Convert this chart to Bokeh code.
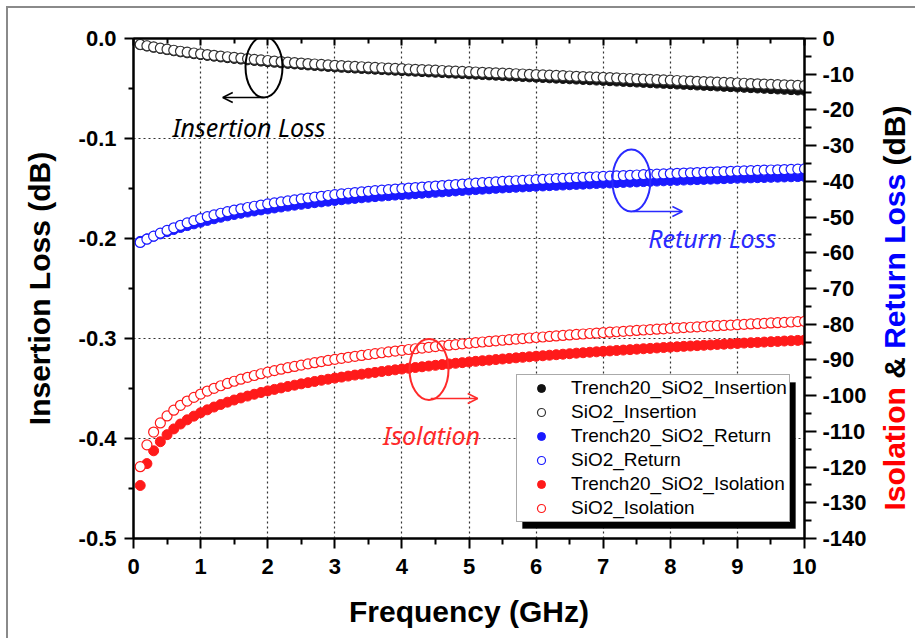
import math
from bokeh.plotting import figure
from bokeh.layouts import row
from bokeh.models import (Range1d, LinearAxis, FixedTicker, Legend, LegendItem,
                          Label, Arrow, OpenHead, BoxAnnotation, Div)
from bokeh.embed import file_html
from bokeh.resources import INLINE

# ---------------- data ----------------
freq = [0.1, 0.2, 0.3, 0.4, 0.5, 0.6, 0.7, 0.8, 0.9, 1.0,
        1.1, 1.2, 1.3, 1.4, 1.5, 1.6, 1.7, 1.8, 1.9, 2.0,
        2.1, 2.2, 2.3, 2.4, 2.5, 2.6, 2.7, 2.8, 2.9, 3.0,
        3.1, 3.2, 3.3, 3.4, 3.5, 3.6, 3.7, 3.8, 3.9, 4.0,
        4.1, 4.2, 4.3, 4.4, 4.5, 4.6, 4.7, 4.8, 4.9, 5.0,
        5.1, 5.2, 5.3, 5.4, 5.5, 5.6, 5.7, 5.8, 5.9, 6.0,
        6.1, 6.2, 6.3, 6.4, 6.5, 6.6, 6.7, 6.8, 6.9, 7.0,
        7.1, 7.2, 7.3, 7.4, 7.5, 7.6, 7.7, 7.8, 7.9, 8.0,
        8.1, 8.2, 8.3, 8.4, 8.5, 8.6, 8.7, 8.8, 8.9, 9.0,
        9.1, 9.2, 9.3, 9.4, 9.5, 9.6, 9.7, 9.8, 9.9, 10.0]

# Insertion loss (dB), left axis
ins_trench = [-0.00620, -0.00752, -0.00878, -0.01000, -0.01117, -0.01228, -0.01335, -0.01432, -0.01523, -0.01610,
              -0.01691, -0.01770, -0.01846, -0.01920, -0.01992, -0.02062, -0.02130, -0.02196, -0.02260, -0.02320,
              -0.02379, -0.02436, -0.02491, -0.02544, -0.02596, -0.02647, -0.02697, -0.02746, -0.02794, -0.02840,
              -0.02881, -0.02921, -0.02960, -0.02998, -0.03035, -0.03072, -0.03108, -0.03143, -0.03177, -0.03210,
              -0.03243, -0.03276, -0.03309, -0.03342, -0.03375, -0.03408, -0.03441, -0.03474, -0.03507, -0.03540,
              -0.03573, -0.03606, -0.03639, -0.03672, -0.03705, -0.03738, -0.03771, -0.03804, -0.03837, -0.03870,
              -0.03902, -0.03934, -0.03966, -0.03998, -0.04030, -0.04062, -0.04094, -0.04126, -0.04158, -0.04190,
              -0.04223, -0.04256, -0.04289, -0.04322, -0.04355, -0.04388, -0.04421, -0.04454, -0.04487, -0.04520,
              -0.04553, -0.04586, -0.04619, -0.04652, -0.04685, -0.04718, -0.04751, -0.04784, -0.04817, -0.04850,
              -0.04883, -0.04916, -0.04949, -0.04982, -0.05015, -0.05048, -0.05081, -0.05114, -0.05147, -0.05180]

ins_sio2 = [-0.00600, -0.00725, -0.00845, -0.00960, -0.01070, -0.01175, -0.01275, -0.01365, -0.01450, -0.01530,
            -0.01607, -0.01682, -0.01754, -0.01824, -0.01892, -0.01958, -0.02022, -0.02084, -0.02144, -0.02200,
            -0.02255, -0.02308, -0.02359, -0.02408, -0.02456, -0.02503, -0.02549, -0.02594, -0.02638, -0.02680,
            -0.02718, -0.02755, -0.02791, -0.02826, -0.02860, -0.02894, -0.02927, -0.02959, -0.02990, -0.03020,
            -0.03050, -0.03080, -0.03110, -0.03140, -0.03170, -0.03200, -0.03230, -0.03260, -0.03290, -0.03320,
            -0.03349, -0.03378, -0.03407, -0.03436, -0.03465, -0.03494, -0.03523, -0.03552, -0.03581, -0.03610,
            -0.03638, -0.03666, -0.03694, -0.03722, -0.03750, -0.03778, -0.03806, -0.03834, -0.03862, -0.03890,
            -0.03918, -0.03946, -0.03974, -0.04002, -0.04030, -0.04058, -0.04086, -0.04114, -0.04142, -0.04170,
            -0.04198, -0.04226, -0.04254, -0.04282, -0.04310, -0.04338, -0.04366, -0.04394, -0.04422, -0.04450,
            -0.04477, -0.04504, -0.04531, -0.04558, -0.04585, -0.04612, -0.04639, -0.04666, -0.04693, -0.04720]

# Return loss (dB), right axis
ret_trench = [-56.80, -56.10, -55.39, -54.72, -54.09, -53.50, -52.92, -52.39, -51.90, -51.44,
              -50.94, -50.48, -50.05, -49.65, -49.28, -48.93, -48.60, -48.29, -48.00, -47.73,
              -47.45, -47.18, -46.92, -46.67, -46.43, -46.20, -45.97, -45.75, -45.54, -45.34,
              -45.14, -44.95, -44.77, -44.60, -44.44, -44.28, -44.13, -43.99, -43.85, -43.72,
              -43.59, -43.46, -43.33, -43.20, -43.07, -42.94, -42.81, -42.68, -42.55, -42.42,
              -42.31, -42.19, -42.08, -41.96, -41.85, -41.75, -41.66, -41.56, -41.47, -41.37,
              -41.29, -41.20, -41.12, -41.03, -40.95, -40.86, -40.78, -40.69, -40.61, -40.52,
              -40.45, -40.37, -40.30, -40.22, -40.15, -40.07, -40.00, -39.92, -39.85, -39.77,
              -39.71, -39.64, -39.58, -39.51, -39.45, -39.38, -39.32, -39.25, -39.19, -39.12,
              -39.07, -39.02, -38.97, -38.92, -38.87, -38.82, -38.77, -38.72, -38.67, -38.62]

ret_sio2 = [-57.10, -56.20, -55.34, -54.52, -53.74, -53.00, -52.30, -51.64, -51.02, -50.44,
            -49.90, -49.40, -48.93, -48.49, -48.08, -47.69, -47.32, -46.97, -46.64, -46.33,
            -46.03, -45.74, -45.46, -45.19, -44.93, -44.68, -44.43, -44.19, -43.96, -43.74,
            -43.53, -43.33, -43.14, -42.96, -42.79, -42.62, -42.46, -42.31, -42.16, -42.02,
            -41.88, -41.74, -41.60, -41.46, -41.32, -41.18, -41.04, -40.90, -40.76, -40.62,
            -40.50, -40.38, -40.26, -40.14, -40.02, -39.92, -39.82, -39.72, -39.62, -39.52,
            -39.43, -39.34, -39.25, -39.16, -39.07, -38.98, -38.89, -38.80, -38.71, -38.62,
            -38.54, -38.46, -38.38, -38.30, -38.22, -38.14, -38.06, -37.98, -37.90, -37.82,
            -37.75, -37.68, -37.61, -37.54, -37.47, -37.40, -37.33, -37.26, -37.19, -37.12,
            -37.06, -37.00, -36.94, -36.88, -36.82, -36.76, -36.70, -36.64, -36.58, -36.52]

# Isolation (dB), right axis
iso_trench = [-125.15, -119.03, -115.44, -112.90, -110.93, -109.32, -107.95, -106.77, -105.74, -104.80,
              -103.97, -103.19, -102.48, -101.83, -101.22, -100.65, -100.12, -99.61, -99.12, -98.67,
              -98.25, -97.84, -97.43, -97.07, -96.70, -96.36, -96.03, -95.70, -95.40, -95.09,
              -94.81, -94.52, -94.24, -93.99, -93.73, -93.49, -93.24, -93.00, -92.77, -92.55,
              -92.33, -92.12, -91.92, -91.71, -91.51, -91.31, -91.13, -90.94, -90.76, -90.58,
              -90.39, -90.23, -90.07, -89.90, -89.74, -89.58, -89.42, -89.27, -89.11, -88.97,
              -88.83, -88.68, -88.54, -88.40, -88.26, -88.11, -87.99, -87.85, -87.73, -87.60,
              -87.48, -87.36, -87.24, -87.12, -86.99, -86.87, -86.77, -86.65, -86.53, -86.42,
              -86.32, -86.20, -86.10, -86.00, -85.90, -85.79, -85.67, -85.59, -85.49, -85.39,
              -85.28, -85.18, -85.10, -85.00, -84.90, -84.82, -84.71, -84.63, -84.53, -84.45]

iso_sio2 = [-119.90, -113.78, -110.19, -107.65, -105.68, -104.07, -102.70, -101.52, -100.49, -99.55,
            -98.72, -97.94, -97.23, -96.58, -95.97, -95.40, -94.87, -94.36, -93.87, -93.42,
            -93.00, -92.59, -92.18, -91.82, -91.45, -91.11, -90.78, -90.45, -90.15, -89.84,
            -89.56, -89.27, -88.99, -88.74, -88.48, -88.24, -87.99, -87.75, -87.52, -87.30,
            -87.08, -86.87, -86.67, -86.46, -86.26, -86.06, -85.88, -85.69, -85.51, -85.33,
            -85.14, -84.98, -84.82, -84.65, -84.49, -84.33, -84.17, -84.02, -83.86, -83.72,
            -83.58, -83.43, -83.29, -83.15, -83.01, -82.86, -82.74, -82.60, -82.48, -82.35,
            -82.23, -82.11, -81.99, -81.87, -81.74, -81.62, -81.52, -81.40, -81.28, -81.17,
            -81.07, -80.95, -80.85, -80.75, -80.65, -80.54, -80.42, -80.34, -80.24, -80.14,
            -80.03, -79.93, -79.85, -79.75, -79.65, -79.57, -79.46, -79.38, -79.28, -79.20]

series_names = ["Trench20_SiO2_Insertion", "SiO2_Insertion",
                "Trench20_SiO2_Return", "SiO2_Return",
                "Trench20_SiO2_Isolation", "SiO2_Isolation"]

x_ticks = [0, 1, 2, 3, 4, 5, 6, 7, 8, 9, 10]
x_tick_labels = ["0", "1", "2", "3", "4", "5", "6", "7", "8", "9", "10"]
left_ticks = [0.0, -0.1, -0.2, -0.3, -0.4, -0.5]
left_tick_labels = ["0.0", "-0.1", "-0.2", "-0.3", "-0.4", "-0.5"]
right_ticks = [0, -10, -20, -30, -40, -50, -60, -70, -80, -90, -100, -110, -120, -130, -140]
right_tick_labels = ["0", "-10", "-20", "-30", "-40", "-50", "-60", "-70", "-80", "-90",
                     "-100", "-110", "-120", "-130", "-140"]

# ---------------- figure ----------------
FONT = "Liberation Sans"
BLACK = "#111111"
BLUE = "#1a1aff"
RED = "#ff1a1a"

p = figure(width=867, height=630, x_range=Range1d(0, 10), y_range=Range1d(-0.5, 0.0),
           output_backend="svg", toolbar_location=None,
           min_border_left=125, min_border_right=71, min_border_top=30, min_border_bottom=100,
           background_fill_color="white", border_fill_color="white", margin=0)
p.extra_y_ranges = {"r": Range1d(-140, 0)}
p.outline_line_color = "black"
p.outline_line_width = 2

xt = FixedTicker(ticks=x_ticks, minor_ticks=[v + 0.5 for v in x_ticks[:-1]])
lt = FixedTicker(ticks=left_ticks, minor_ticks=[v - 0.05 for v in left_ticks[:-1]])
rt = FixedTicker(ticks=right_ticks, minor_ticks=[v - 5 for v in right_ticks[:-1]])

def style_axis(ax, out_major, out_minor, in_major=0, in_minor=0):
    ax.axis_line_width = 2
    ax.axis_line_color = "black"
    ax.major_tick_line_width = 2
    ax.minor_tick_line_width = 2
    ax.major_tick_line_color = "black"
    ax.minor_tick_line_color = "black"
    ax.major_tick_out = out_major
    ax.minor_tick_out = out_minor
    ax.major_tick_in = in_major
    ax.minor_tick_in = in_minor
    ax.major_label_text_font = FONT
    ax.major_label_text_font_style = "bold"
    ax.major_label_text_font_size = "22px"
    ax.major_label_text_color = "black"
    ax.axis_label_text_font = FONT
    ax.axis_label_text_font_style = "bold"
    ax.axis_label_text_font_size = "30px"
    ax.axis_label_text_color = "black"

xax = p.xaxis[0]
xax.ticker = xt
xax.major_label_overrides = {t: s for t, s in zip(x_ticks, x_tick_labels)}
style_axis(xax, 10, 6)
xax.major_label_standoff = 10
xax.axis_label = "Frequency (GHz)"
xax.axis_label_standoff = 18

yax = p.yaxis[0]
yax.ticker = lt
yax.major_label_overrides = {t: s for t, s in zip(left_ticks, left_tick_labels)}
style_axis(yax, 9, 5)
yax.major_label_standoff = 8
yax.axis_label = "Insertion Loss (dB)"
yax.axis_label_standoff = 20

rax = LinearAxis(y_range_name="r", ticker=rt)
rax.major_label_overrides = {t: s for t, s in zip(right_ticks, right_tick_labels)}
style_axis(rax, 12, 7)
rax.major_label_standoff = 6
p.add_layout(rax, "right")

tax = LinearAxis(ticker=xt)
style_axis(tax, 0, 0, 7, 5)
tax.major_label_text_font_size = "0px"
tax.major_label_text_color = None
p.add_layout(tax, "above")

for g in (p.xgrid[0], p.ygrid[0]):
    g.grid_line_color = "#333333"
    g.grid_line_dash = "2 3"
    g.grid_line_width = 1.2
p.xgrid[0].ticker = xt
p.ygrid[0].ticker = lt

# ---------------- series ----------------
MS = 10
r1 = p.scatter(freq, ins_trench, marker="circle", size=MS, fill_color=BLACK, line_color=BLACK, line_width=1)
r2 = p.scatter(freq, ins_sio2, marker="circle", size=MS, fill_color="white", line_color="#333333", line_width=1.2)
r3 = p.scatter(freq, ret_trench, marker="circle", size=MS, fill_color=BLUE, line_color=BLUE, line_width=1,
               y_range_name="r")
r4 = p.scatter(freq, ret_sio2, marker="circle", size=MS, fill_color="white", line_color=BLUE, line_width=1.2,
               y_range_name="r")
r5 = p.scatter(freq, iso_trench, marker="circle", size=MS, fill_color=RED, line_color=RED, line_width=1,
               y_range_name="r")
r6 = p.scatter(freq, iso_sio2, marker="circle", size=MS, fill_color="white", line_color=RED, line_width=1.2,
               y_range_name="r")

# ---------------- annotations (ellipses, arrows, labels) ----------------
p.ellipse(x=[1.945], y=[-0.0285], width=37, height=61, width_units="screen", height_units="screen",
          fill_color=None, line_color="black", line_width=2)
p.ellipse(x=[7.42], y=[-0.142], width=38, height=62, width_units="screen", height_units="screen",
          fill_color=None, line_color="#2a2aff", line_width=2)
p.ellipse(x=[4.404], y=[-0.331], width=39, height=61, width_units="screen", height_units="screen",
          fill_color=None, line_color="#ff2a2a", line_width=2)

p.add_layout(Arrow(end=OpenHead(size=10, line_color="black", line_width=1.5),
                   x_start=1.937, y_start=-0.059, x_end=1.33, y_end=-0.059,
                   line_color="black", line_width=1.5))
p.add_layout(Arrow(end=OpenHead(size=10, line_color="#2a2aff", line_width=1.5),
                   x_start=7.45, y_start=-0.173, x_end=8.18, y_end=-0.173,
                   line_color="#2a2aff", line_width=1.5))
p.add_layout(Arrow(end=OpenHead(size=10, line_color="#ff2a2a", line_width=1.5),
                   x_start=4.43, y_start=-0.360, x_end=5.13, y_end=-0.360,
                   line_color="#ff2a2a", line_width=1.5))

for txt, x, y, col in [("Insertion Loss", 0.58, -0.088, "black"),
                       ("Return Loss", 7.67, -0.199, "#2a2aff"),
                       ("Isolation", 3.72, -0.396, "#ff2a2a")]:
    p.add_layout(Label(x=x, y=y, text=txt, text_font="Noto Sans", text_font_style="italic",
                       text_font_size="25px", text_color=col, text_align="left",
                       text_baseline="alphabetic"))

# ---------------- legend ----------------
p.add_layout(BoxAnnotation(left=5.797, right=9.866, top=-0.344, bottom=-0.490,
                           fill_color="black", fill_alpha=1, line_color="black"))
legend = Legend(items=[LegendItem(label=n, renderers=[r]) for n, r in
                       zip(series_names, [r1, r2, r3, r4, r5, r6])],
                location=(383, 16), orientation="vertical",
                label_text_font=FONT, label_text_font_size="19px", label_text_color="black",
                glyph_width=44, glyph_height=20, label_height=20, label_standoff=8,
                spacing=2, padding=2, margin=0,
                border_line_color="#555555", border_line_width=1,
                background_fill_color="white", background_fill_alpha=1)
p.add_layout(legend, "center")
p.add_layout(BoxAnnotation(left=5.797, right=6.438, top=-0.344, bottom=-0.366,
                           fill_color=None, fill_alpha=0, line_color="#3a6cff", line_width=1.2))

# ---------------- right axis title, three colours, reading bottom to top ----------------
title_html = ('<div style="width:405px;height:36px;line-height:36px;margin-left:-183px;margin-top:282px;'
              'transform:rotate(-90deg);text-align:center;white-space:nowrap;'
              "font-family:'Liberation Sans',Arial,sans-serif;font-weight:bold;font-size:30px;color:black\">"
              '<span style="color:#ff0000">Isolation</span> &amp; '
              '<span style="color:#0000ff">Return Loss</span> (dB)</div>')
rtitle = Div(text=title_html, width=40, height=630, margin=0,
             styles={"overflow": "visible", "background-color": "white"})

layout = row(p, rtitle, margin=(6, 0, 0, 6), spacing=0,
             styles={"border-left": "2px solid #8a8a8a", "border-top": "2px solid #8a8a8a",
                     "background-color": "white"})

open("out.html", "w").write(file_html(layout, INLINE))
